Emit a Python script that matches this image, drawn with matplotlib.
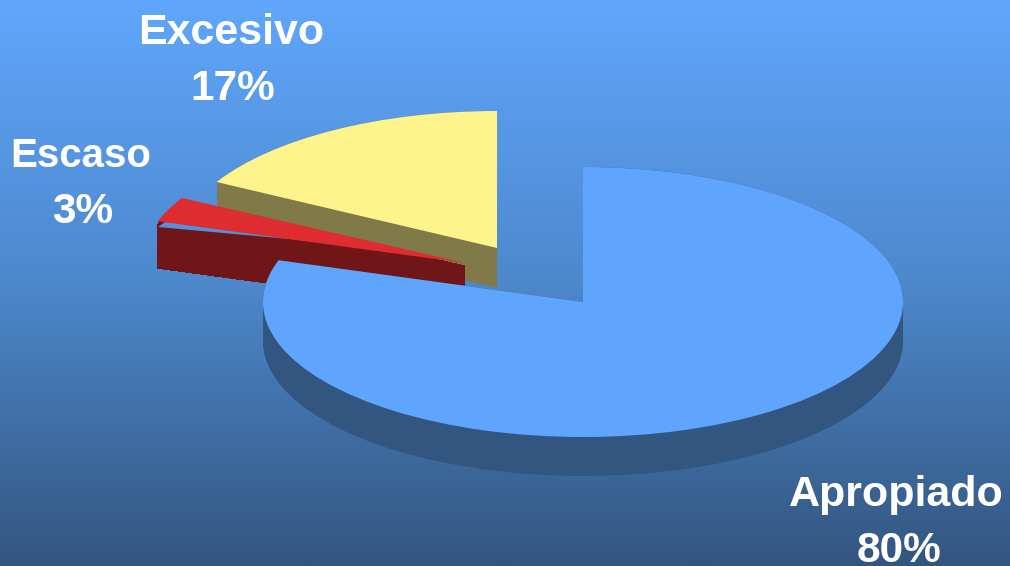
import numpy as np
import matplotlib
matplotlib.use('Agg')
import matplotlib.pyplot as plt
from matplotlib.transforms import Affine2D

# datos
categorias = ['Apropiado', 'Escaso', 'Excesivo']
valores = [80, 3, 17]

# colores
col_top = ['#5FA5FD', '#DE2C30', '#FFF48C']
col_lado = ['#32567F', '#711618', '#807A48']

# centro de cada trozo en pixeles
cx = [583, 465, 497]
cy = [302, 263, 248]
rx = [320.0, 323.0, 320.0]
ry = [135.0, 135.0, 137.0]
prof = [39, 47, 40]
inicio = [0, 3, 0]
orden = [2, 1, 0]

W, H = 1010, 566
plt.rcParams['font.family'] = ['Liberation Sans', 'DejaVu Sans']

fig = plt.figure(figsize=(W/100, H/100), dpi=100)
ax = fig.add_axes([0, 0, 1, 1])

# fondo degradado
grad = np.linspace(0, 1, 256).reshape(-1, 1)
cmap = matplotlib.colors.LinearSegmentedColormap.from_list('fondo', ['#60A6FC', '#4D88CC', '#33567F'])
fondo = ax.imshow(grad, cmap=cmap, extent=[0, W, H, 0], aspect='auto', zorder=0)


def trozo(i, x0, y0, a, b, color, z, suave=True):
    # pie normal y despues se aplasta con la escala de los ejes
    w, _ = ax.pie(valores, startangle=90, counterclock=False, radius=1.0,
                  colors=[color]*3, normalize=True)
    for k, p in enumerate(w):
        if k != i:
            p.remove()
    w[i].set_zorder(z)
    w[i].set_linewidth(0)
    w[i].set_antialiased(suave)
    # unidad del circulo -> elipse en pixeles
    w[i].set_transform(Affine2D().scale(a, b).translate(x0, -y0).scale(1, -1) + ax.transData)
    return w[i]


z = 2
for i in orden:
    for dy in range(inicio[i], prof[i]+1):
        # el lado rojo sin suavizado, si no se emborrona en la punta
        trozo(i, cx[i], cy[i]+dy, rx[i], ry[i], col_lado[i], z, suave=(i != 1))
        z += 1
    if i == 1:
        # franja fina de fondo entre la cara roja y su lado
        trozo(i, 300, 240, 149, 42, '#5590DA', z)
        z += 1
    trozo(i, cx[i], cy[i], rx[i], ry[i], col_top[i], z)
    z += 1

ax.set_xlim(0, W)
ax.set_ylim(H, 0)
ax.set_aspect('auto')
ax.axis('off')
fondo.set_extent([0, W, H, 0])

# etiquetas
pos_x = [896, 81, 231]
pos_y = [495, 156, 33]
pct_x = [899, 83, 233]
tam = [31, 29, 31]
for i in range(3):
    ax.text(pos_x[i], pos_y[i], categorias[i], color='white', fontsize=tam[i], fontweight='bold',
            ha='center', va='center', zorder=500)
    ax.text(pct_x[i], pos_y[i]+56, str(valores[i])+'%', color='white', fontsize=30.5,
            fontweight='bold', ha='center', va='center', zorder=500)

plt.savefig('out.png', dpi=100)
